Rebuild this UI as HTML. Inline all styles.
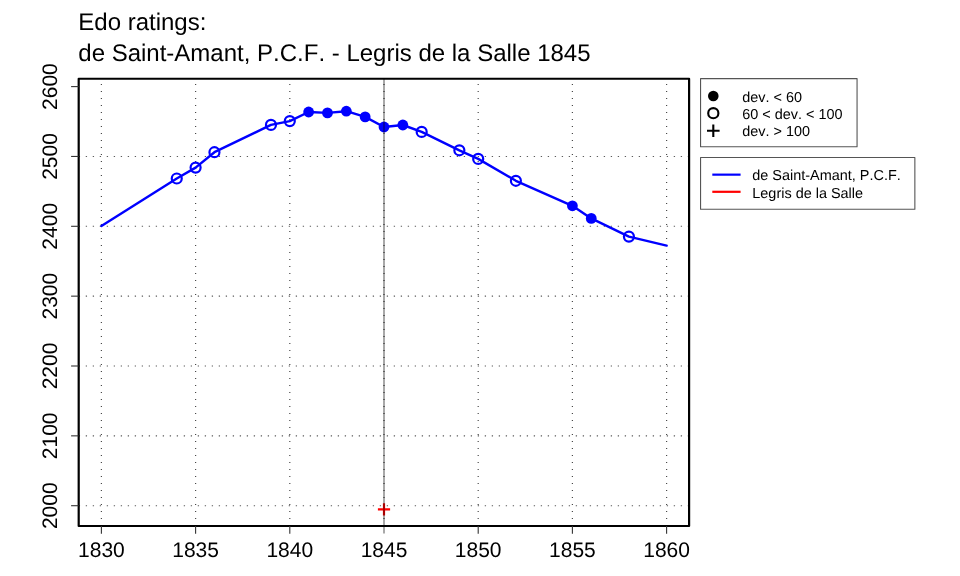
<!DOCTYPE html><html><head><meta charset="utf-8"><style>html,body{margin:0;padding:0;background:#fff;width:960px;height:576px;overflow:hidden}svg{position:absolute;left:0;top:0;will-change:transform}text{font-family:"Liberation Sans",sans-serif;fill:#000;text-rendering:geometricPrecision;font-kerning:none;font-feature-settings:"kern" 0}</style></head><body>
<svg width="960" height="576" viewBox="0 0 960 576">
<text x="78.3" y="29.9" font-size="24.0">Edo ratings:</text>
<text x="78.3" y="60.7" font-size="24.0">de Saint-Amant, P.C.F. - Legris de la Salle 1845</text>
<path d="M101.40 526.1V78.75" stroke="#4a4a4a" stroke-width="1.2" stroke-dasharray="1.2 5.8" fill="none"/>
<path d="M195.60 526.1V78.75" stroke="#4a4a4a" stroke-width="1.2" stroke-dasharray="1.2 5.8" fill="none"/>
<path d="M289.80 526.1V78.75" stroke="#4a4a4a" stroke-width="1.2" stroke-dasharray="1.2 5.8" fill="none"/>
<path d="M384.00 526.1V78.75" stroke="#4a4a4a" stroke-width="1.2" stroke-dasharray="1.2 5.8" fill="none"/>
<path d="M478.20 526.1V78.75" stroke="#4a4a4a" stroke-width="1.2" stroke-dasharray="1.2 5.8" fill="none"/>
<path d="M572.40 526.1V78.75" stroke="#4a4a4a" stroke-width="1.2" stroke-dasharray="1.2 5.8" fill="none"/>
<path d="M666.60 526.1V78.75" stroke="#4a4a4a" stroke-width="1.2" stroke-dasharray="1.2 5.8" fill="none"/>
<path d="M78.75 505.70H689.1" stroke="#5c5c5c" stroke-width="1.1" stroke-dasharray="1.3 5.7" fill="none"/>
<path d="M78.75 435.85H689.1" stroke="#5c5c5c" stroke-width="1.1" stroke-dasharray="1.3 5.7" fill="none"/>
<path d="M78.75 366.00H689.1" stroke="#5c5c5c" stroke-width="1.1" stroke-dasharray="1.3 5.7" fill="none"/>
<path d="M78.75 296.15H689.1" stroke="#5c5c5c" stroke-width="1.1" stroke-dasharray="1.3 5.7" fill="none"/>
<path d="M78.75 226.30H689.1" stroke="#5c5c5c" stroke-width="1.1" stroke-dasharray="1.3 5.7" fill="none"/>
<path d="M78.75 156.45H689.1" stroke="#5c5c5c" stroke-width="1.1" stroke-dasharray="1.3 5.7" fill="none"/>
<path d="M101.40 225.90 L176.76 178.50 L195.60 167.60 L214.44 152.20 L270.96 124.90 L289.80 121.10 L308.64 112.00 L327.48 112.90 L346.32 111.20 L365.16 116.90 L384.00 127.00 L402.84 125.00 L421.68 131.90 L459.36 150.30 L478.20 158.90 L515.88 180.80 L572.40 205.80 L591.24 218.40 L628.92 236.60 L666.60 245.60" stroke="#0000ff" stroke-width="2.4" fill="none" stroke-linejoin="round" stroke-linecap="round"/>
<circle cx="176.76" cy="178.50" r="5.0" fill="none" stroke="#0000ff" stroke-width="2.2"/>
<circle cx="195.60" cy="167.60" r="5.0" fill="none" stroke="#0000ff" stroke-width="2.2"/>
<circle cx="214.44" cy="152.20" r="5.0" fill="none" stroke="#0000ff" stroke-width="2.2"/>
<circle cx="270.96" cy="124.90" r="5.0" fill="none" stroke="#0000ff" stroke-width="2.2"/>
<circle cx="289.80" cy="121.10" r="5.0" fill="none" stroke="#0000ff" stroke-width="2.2"/>
<circle cx="308.64" cy="112.00" r="5.4" fill="#0000ff"/>
<circle cx="327.48" cy="112.90" r="5.4" fill="#0000ff"/>
<circle cx="346.32" cy="111.20" r="5.4" fill="#0000ff"/>
<circle cx="365.16" cy="116.90" r="5.4" fill="#0000ff"/>
<circle cx="384.00" cy="127.00" r="5.4" fill="#0000ff"/>
<circle cx="402.84" cy="125.00" r="5.4" fill="#0000ff"/>
<circle cx="421.68" cy="131.90" r="5.0" fill="none" stroke="#0000ff" stroke-width="2.2"/>
<circle cx="459.36" cy="150.30" r="5.0" fill="none" stroke="#0000ff" stroke-width="2.2"/>
<circle cx="478.20" cy="158.90" r="5.0" fill="none" stroke="#0000ff" stroke-width="2.2"/>
<circle cx="515.88" cy="180.80" r="5.0" fill="none" stroke="#0000ff" stroke-width="2.2"/>
<circle cx="572.40" cy="205.80" r="5.4" fill="#0000ff"/>
<circle cx="591.24" cy="218.40" r="5.4" fill="#0000ff"/>
<circle cx="628.92" cy="236.60" r="5.0" fill="none" stroke="#0000ff" stroke-width="2.2"/>
<path d="M377.9 509.4H390.1M384.0 503.29999999999995V515.5" stroke="#ff0000" stroke-width="2.2" fill="none"/>
<path d="M384.0 78.75V533.6" stroke="#000" stroke-opacity="0.45" stroke-width="1.5" fill="none"/>
<rect x="78.7" y="78.75" width="610.4" height="447.25" fill="none" stroke="#000" stroke-width="2.2" stroke-linejoin="round"/>
<path d="M101.40 526.0V533.7" stroke="#333" stroke-width="1.1"/>
<text x="101.40" y="557" font-size="21" text-anchor="middle">1830</text>
<path d="M195.60 526.0V533.7" stroke="#333" stroke-width="1.1"/>
<text x="195.60" y="557" font-size="21" text-anchor="middle">1835</text>
<path d="M289.80 526.0V533.7" stroke="#333" stroke-width="1.1"/>
<text x="289.80" y="557" font-size="21" text-anchor="middle">1840</text>
<text x="384.00" y="557" font-size="21" text-anchor="middle">1845</text>
<path d="M478.20 526.0V533.7" stroke="#333" stroke-width="1.1"/>
<text x="478.20" y="557" font-size="21" text-anchor="middle">1850</text>
<path d="M572.40 526.0V533.7" stroke="#333" stroke-width="1.1"/>
<text x="572.40" y="557" font-size="21" text-anchor="middle">1855</text>
<path d="M666.60 526.0V533.7" stroke="#333" stroke-width="1.1"/>
<text x="666.60" y="557" font-size="21" text-anchor="middle">1860</text>
<path d="M78.7 505.70H71.1" stroke="#333" stroke-width="1.1"/>
<text transform="translate(56.95 505.70) rotate(-90)" x="0" y="0" font-size="21" text-anchor="middle">2000</text>
<path d="M78.7 435.85H71.1" stroke="#333" stroke-width="1.1"/>
<text transform="translate(56.95 435.85) rotate(-90)" x="0" y="0" font-size="21" text-anchor="middle">2100</text>
<path d="M78.7 366.00H71.1" stroke="#333" stroke-width="1.1"/>
<text transform="translate(56.95 366.00) rotate(-90)" x="0" y="0" font-size="21" text-anchor="middle">2200</text>
<path d="M78.7 296.15H71.1" stroke="#333" stroke-width="1.1"/>
<text transform="translate(56.95 296.15) rotate(-90)" x="0" y="0" font-size="21" text-anchor="middle">2300</text>
<path d="M78.7 226.30H71.1" stroke="#333" stroke-width="1.1"/>
<text transform="translate(56.95 226.30) rotate(-90)" x="0" y="0" font-size="21" text-anchor="middle">2400</text>
<path d="M78.7 156.45H71.1" stroke="#333" stroke-width="1.1"/>
<text transform="translate(56.95 156.45) rotate(-90)" x="0" y="0" font-size="21" text-anchor="middle">2500</text>
<path d="M78.7 86.60H71.1" stroke="#333" stroke-width="1.1"/>
<text transform="translate(56.95 86.60) rotate(-90)" x="0" y="0" font-size="21" text-anchor="middle">2600</text>
<rect x="700.56" y="78.6" width="156.5" height="68.2" fill="#fff" stroke="#555" stroke-width="1.1" stroke-linejoin="round"/>
<circle cx="713.3" cy="96.0" r="5.3" fill="#000"/>
<circle cx="713.3" cy="113.2" r="5.1" fill="none" stroke="#000" stroke-width="2.1"/>
<path d="M707 130.7H719.6M713.3 124.4V137" stroke="#000" stroke-width="2.1"/>
<text x="742.2" y="101.9" font-size="14.45">dev. &lt; 60</text>
<text x="742.2" y="118.7" font-size="14.45">60 &lt; dev. &lt; 100</text>
<text x="742.2" y="135.5" font-size="14.45">dev. &gt; 100</text>
<rect x="700.56" y="157.5" width="214.3" height="51.8" fill="#fff" stroke="#555" stroke-width="1.1" stroke-linejoin="round"/>
<path d="M712.3 174.65H740.6" stroke="#0000ff" stroke-width="2.2"/>
<path d="M712.3 191.8H740.6" stroke="#ff0000" stroke-width="2.2"/>
<text x="752.3" y="179.8" font-size="14.45">de Saint-Amant, P.C.F.</text>
<text x="752.3" y="197.5" font-size="14.45">Legris de la Salle</text>
</svg></body></html>
